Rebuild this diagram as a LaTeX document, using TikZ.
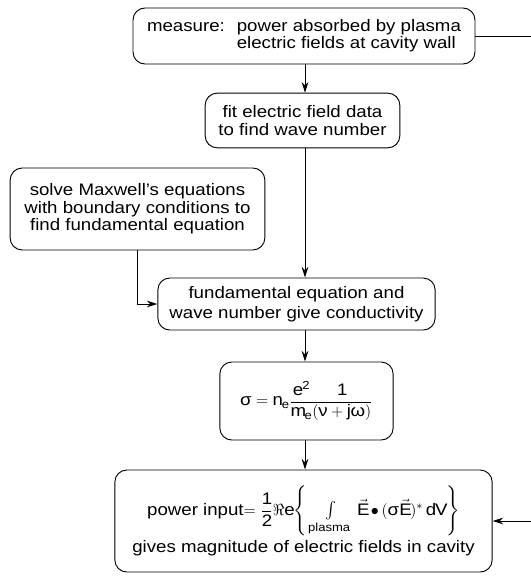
\documentclass[tikz,border=0pt]{standalone}
\usepackage{amsmath,amssymb}
\usepackage{fontspec}
\setmainfont{Liberation Sans}[FakeStretch=1.12]
\usetikzlibrary{arrows.meta, positioning, calc}

\begin{document}
\begin{tikzpicture}[
    x=0.75pt, y=-0.75pt,
    box/.style={rectangle, draw, rounded corners=9pt, line width=0.7pt, inner sep=0pt, align=center, font=\fontsize{12.5}{13}\selectfont},
    arrow/.style={-{Stealth[length=8pt, width=5pt]}, line width=0.7pt}
]
\useasboundingbox (0,0) rectangle (531,576);

% Main components
\node[box, minimum width=256.5pt, minimum height=42pt, font=\fontsize{12.5}{11}\selectfont] (measure) at (304,36) {measure:\hspace{9pt}\begin{tabular}[t]{@{}l@{}}power absorbed by plasma\\electric fields at cavity wall\end{tabular}};

\node[box, minimum width=146pt, minimum height=41pt] (fit) at (302.5,120.5) {fit electric field data\\to find wave number};

\node[box, minimum width=191pt, minimum height=61.5pt] (solve) at (137.5,209) {solve Maxwell's equations\\with boundary conditions to\\find fundamental equation};

\node[box, minimum width=208pt, minimum height=39pt, font=\fontsize{12.5}{15}\selectfont] (fund) at (296.5,304) {fundamental equation and\\wave number give conductivity};

\node[box, minimum width=130pt, minimum height=58.5pt] (sigma) at (306.5,401) {$\text{σ}=\mathrm{n}_{\mathrm{e}}\dfrac{\mathrm{e}^{\mathrm{2}}}{\mathrm{m}_{\mathrm{e}}}\!\dfrac{\mathrm{1}}{(\text{ν}+\mathrm{j}\text{ω})}$};

\node[box, minimum width=283pt, minimum height=76.5pt] (power) at (303.5,521) {power\ input$=\dfrac{\mathrm{1}}{\mathrm{2}}\Re\mathrm{e}\Biggl\{\,\textstyle\int\limits_{\text{plasma}}\,\vec{\mathrm{E}}\,{\bullet}\,(\text{σ}\vec{\mathrm{E}})^{*}\,\mathrm{dV}\Biggr\}$\\[2pt]gives magnitude of electric fields in cavity};

% Arrows
\coordinate (col) at (305,0);
\coordinate (rail) at (531,0);
\draw[arrow] (measure.south -| col) -- (fit.north -| col);
\draw[arrow] (fit.south -| col) -- (fund.north -| col);
\draw[arrow] (fund.south -| col) -- (sigma.north -| col);
\draw[arrow] (sigma.south -| col) -- (power.north -| col);
\draw[arrow] (solve.south) |- (fund.west);
\draw[arrow] (measure.east) -- (measure.east -| rail) -- (power.east -| rail) -- (power.east);

\end{tikzpicture}
\end{document}
